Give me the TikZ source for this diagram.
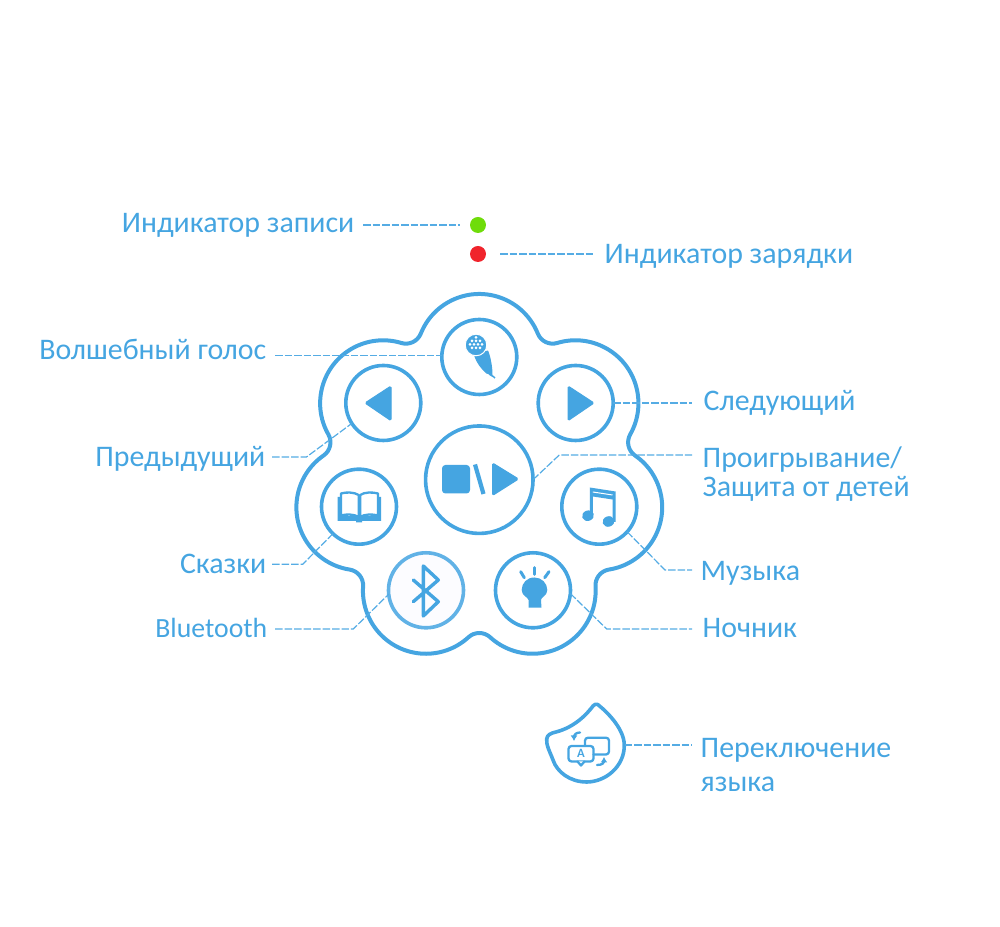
\documentclass[tikz,border=0pt]{standalone}
\usepackage{fontspec}
\usetikzlibrary{arrows.meta}
\setmainfont{Carlito}
\definecolor{toyblue}{HTML}{45A5E1}
\definecolor{toydash}{HTML}{55ACE4}
\definecolor{recgreen}{HTML}{6FDC0A}
\definecolor{batred}{HTML}{F0242C}
\tikzset{
	btn/.style={circle, draw=toyblue, line width=0.36mm, fill=white, minimum size=7.5mm, inner sep=0pt, outer sep=0pt},
	led/.style={circle, minimum size=1.6mm, inner sep=0pt, outer sep=0pt},
	lblr/.style={anchor=base west, inner sep=0pt, text=toyblue, font=\fontsize{8.5pt}{8.2pt}\selectfont, align=left},
	lbll/.style={anchor=base east, inner sep=0pt, text=toyblue, font=\fontsize{8.5pt}{8.2pt}\selectfont},
	leader/.style={draw=toydash, line width=0.12mm, dash pattern=on 0.75mm off 0.2mm},
	ico/.style={draw=toyblue, line width=0.23mm, line join=round, line cap=round},
	icofill/.style={fill=toyblue, draw=toyblue, line width=0.1mm, line join=round}
}
\begin{document}
\begin{tikzpicture}[x=0.1mm,y=0.1mm]
	\useasboundingbox (0,0) rectangle (1000,-927);
	% body
	\draw[toyblue, line width=0.4mm] (479.3,-480) ++(90:123) ++(158.2:63)
		\foreach \a in {90,38.57,-12.86,-64.29,-115.71,-167.14,141.43} {
			arc[start angle=\a+68.2, end angle=\a-68.2, radius=63]
			arc[start angle=\a+111.8, end angle=\a+196.8, radius=16]
		} -- cycle;
	% buttons
	\node (micbtn)   at (479.3,-357)   [btn] {};
	\node (prevbtn)  at (383.3,-403)   [btn] {};
	\node (nextbtn)  at (575.7,-403)   [btn] {};
	\node (playbtn)  at (479.3,-479.7) [btn, minimum size=10.75mm] {};
	\node (bookbtn)  at (359,-506.7)   [btn] {};
	\node (musicbtn) at (599.3,-506.7) [btn] {};
	\node (btbtn)    at (426,-590.3)   [btn, draw=toyblue!85, fill=blue!1] {};
	\node (bulbbtn)  at (533,-590.3)   [btn] {};
	% leds
	\node (recled) at (478,-225) [led, fill=recgreen] {};
	\node (batled) at (478,-254) [led, fill=batred] {};
	% labels
	\node (reclbl)   at (355,-233) [lbll] {Индикатор записи};
	\node (batlbl)   at (604,-263.5) [lblr] {Индикатор зарядки};
	\node (miclbl)   at (267,-359.5) [lbll] {Волшебный голос};
	\node (prevlbl)  at (266,-467) [lbll] {Предыдущий};
	\node (booklbl)  at (267,-574) [lbll] {Сказки};
	\node (btlbl)    at (268,-637.5) [lbll, font=\fontsize{7.9pt}{8.2pt}\selectfont] {Bluetooth};
	\node (nextlbl)  at (703,-411) [lblr] {Следующий};
	\node (playlbl)  at (702,-496.5) [lblr] {Проигрывание/\\Защита от детей};
	\node (musiclbl) at (700,-580.5) [lblr] {Музыка};
	\node (bulblbl)  at (702,-637.5) [lblr] {Ночник};
	\node (langlbl)  at (700,-792) [lblr] {Переключение\\[1.5pt]языка};
	% language key
	\node (langkey) at (586,-745) [circle, inner sep=0pt, outer sep=0pt, minimum size=7.7mm] {};
	\draw[toyblue, line width=0.36mm, line join=round]
		(597.7,-704.5) .. controls (606,-711) and (624,-728) .. (624.3,-745)
		.. controls (624.5,-767) and (605,-782) .. (586.7,-782)
		.. controls (570,-782) and (557,-772) .. (553,-760)
		.. controls (550,-752) and (546,-745) .. (546.7,-739)
		.. controls (547,-735) and (551,-733) .. (556,-732)
		.. controls (575,-727) and (587,-714) .. (593,-706)
		.. controls (594.5,-704.5) and (596,-703.5) .. (597.7,-704.5) -- cycle;
	\draw[ico, rounded corners=0.3mm] (585,-746) -- (585,-737.7) -- (609,-737.7) -- (609,-754.5) -- (593.5,-754.5);
	\draw[ico, rounded corners=0.3mm] (568.5,-746) rectangle (593.5,-761.5);
	\draw[ico, fill=white] (577.5,-761.5) -- (581,-765.5) -- (584.5,-761.5);
	\node (langa) at (581,-753.5) [inner sep=0pt, text=toyblue, font=\fontsize{3.6pt}{4pt}\selectfont\bfseries] {A};
	\draw[ico, -{Latex[length=0.55mm,width=0.7mm]}] (580,-732.5) .. controls (576,-732.5) and (574,-735) .. (574,-741);
	\draw[ico, -{Latex[length=0.55mm,width=0.7mm]}] (597,-765) .. controls (602,-765) and (604,-763) .. (604,-757);
	% leaders
	\draw[leader, shorten <=0.8mm, shorten >=1mm] (reclbl.east |- recled) -- (recled);
	\draw[leader, shorten <=1.4mm, shorten >=1mm] (batled) -- (batlbl.west |- batled);
	\draw[leader, shorten <=0.8mm] (miclbl.east |- micbtn.178) -- (micbtn.178);
	\coordinate (prevbend) at (306.5,-457);
	\draw[leader, shorten <=0.6mm] (prevlbl.east |- prevbend) -- (prevbend) -- (prevbtn.213);
	\coordinate (bookbend) at (302.7,-564.3);
	\draw[leader, shorten <=0.5mm] (booklbl.east |- bookbend) -- (bookbend) -- (bookbtn.226);
	\coordinate (btbend) at (353.3,-629);
	\draw[leader, shorten <=0.7mm] (btlbl.east |- btbend) -- (btbend) -- (btbtn.186);
	\draw[leader, shorten >=1.1mm] (nextbtn.0) -- (nextlbl.west |- nextbtn);
	\coordinate (playbend) at (559.3,-455);
	\draw[leader, shorten >=1mm] (playbtn.0) -- (playbend) -- (playlbl.west |- playbend);
	\coordinate (musicbend) at (665,-570);
	\draw[leader, shorten >=0.8mm] (musicbtn.-42) -- (musicbend) -- (musiclbl.west |- musicbend);
	\coordinate (bulbbend) at (606.7,-629);
	\draw[leader, shorten >=1mm] (bulbbtn.-5) -- (bulbbend) -- (bulblbl.west |- bulbbend);
	\draw[leader, shorten >=0.8mm] (langkey.east) -- (langlbl.west |- langkey);
	% icons
	\fill[icofill, rounded corners=0.15mm] (365,-403) -- (391,-386) -- (391,-420.7) -- cycle;
	\fill[icofill, rounded corners=0.15mm] (594,-403) -- (568,-386) -- (568,-420.7) -- cycle;
	\fill[icofill, rounded corners=0.3mm] (442.5,-465.5) rectangle (469.5,-493);
	\draw[toyblue, line width=0.42mm] (475,-464.5) -- (483.5,-494);
	\fill[icofill, rounded corners=0.15mm] (492.5,-463) -- (518.5,-479) -- (492.5,-495.5) -- cycle;
	% microphone
	\fill[icofill] (474.5,-355) -- (487.7,-351) .. controls (490.5,-358) and (492,-368) .. (492,-374.5) -- (486.5,-373) .. controls (482,-369) and (477,-363) .. (474.5,-355) -- cycle;
	\draw[toyblue, line width=0.15mm] (489,-374) .. controls (491,-376) and (492,-375) .. (495,-378);
	\draw[white, fill=toyblue, line width=0.1mm] (476,-345) circle[radius=10.8];
	\foreach \px/\py in {472/-341,476/-341,480/-341,470/-344.5,474/-344.5,478/-344.5,482/-344.5,472/-348,476/-348,480/-348,476/-337.5}
		\fill[white] (\px,\py) circle[radius=1.5];
	% book
	\fill[toyblue] (337.5,-497) -- (340,-497) -- (340,-516) -- (379,-516) -- (379,-497) -- (381,-497) -- (381,-521) -- (362,-521) -- (362,-522.5) -- (356,-522.5) -- (356,-521) -- (337.5,-521) -- cycle;
	\draw[ico, fill=white] (341,-493.5) .. controls (346,-492) and (354,-492) .. (358.7,-495) -- (358.7,-517) .. controls (354,-514) and (346,-514) .. (341,-515.5) -- cycle;
	\draw[ico, fill=white] (378,-493.5) .. controls (373,-492) and (364,-492) .. (360.3,-495) -- (360.3,-517) .. controls (364,-514) and (373,-514) .. (378,-515.5) -- cycle;
	% music
	\fill[toyblue, rotate around={20:(588,-515.7)}] (588,-515.7) ellipse[x radius=6, y radius=5.2];
	\fill[toyblue, rotate around={20:(608.5,-521.5)}] (608.5,-521.5) ellipse[x radius=6, y radius=5.2];
	\fill[toyblue] (589.8,-487.5) -- (615.5,-491.5) -- (615.5,-522) -- (612.5,-522) -- (612.5,-499.5) -- (592.8,-496.5) -- (592.8,-515.5) -- (589.8,-515.5) -- cycle;
	\draw[white, line width=0.1mm] (592.8,-492) -- (612.5,-495);
	% bluetooth
	\draw[ico, line width=0.34mm] (413.3,-580) -- (438.3,-601.7) -- (423.3,-616) -- (423.3,-566) -- (438.3,-580) -- (413.3,-601.7);
	% lamp
	\fill[toyblue] (528.5,-600) .. controls (528,-597) and (521.7,-596) .. (521.7,-590) .. controls (521.7,-583) and (527,-577.5) .. (534.3,-577.5) .. controls (541.5,-577.5) and (547.3,-583) .. (547.3,-590) .. controls (547.3,-596) and (541,-597) .. (541,-600) -- (541.5,-607.7) -- (528.5,-607.7) -- cycle;
	\draw[ico, line width=0.3mm] (520.7,-571.7) -- (524.3,-577.7);
	\draw[ico, line width=0.3mm] (534.3,-567.7) -- (534.3,-574.5);
	\draw[ico, line width=0.3mm] (549,-571.7) -- (544.7,-577.7);
\end{tikzpicture}
\end{document}
